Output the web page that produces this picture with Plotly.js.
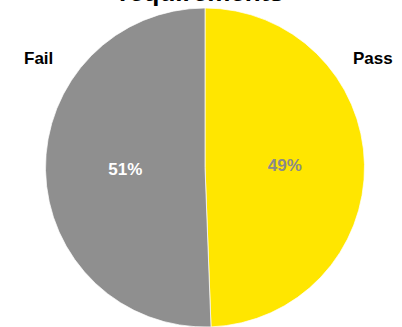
<!DOCTYPE html>
<html>
<head>
<meta charset="utf-8">
<script src="https://cdn.plot.ly/plotly-3.0.1.min.js"></script>
<style>html,body{margin:0;padding:0;background:#fff;}#chart{width:402px;height:327px;}</style>
</head>
<body>
<div id="chart"></div>
<script>
var categories = ["Pass", "Fail"];
var values = [49.4, 50.6];
var sliceColors = ["#ffe600", "#8f8f8f"];
var pctColors = ["#8a8a8a", "#ffffff"];
var titleText = "requirements";

var FONT = "Liberation Sans, Arial, sans-serif";

var trace = {
  type: "pie",
  labels: categories,
  values: values,
  sort: false,
  direction: "clockwise",
  rotation: 0,
  marker: {colors: sliceColors, line: {color: "#ffffff", width: 0.7}},
  textinfo: "percent",
  texttemplate: "%{percent:.0%}",
  textposition: "inside",
  insidetextorientation: "horizontal",
  insidetextfont: {family: FONT, size: 17, color: pctColors, weight: "bold"},
  hoverinfo: "none",
  showlegend: false
};

// outer category labels (positions are styling)
var labelPos = {"Pass": {x: 373, y: 58}, "Fail": {x: 38, y: 58}};
var annotations = categories.map(function (c) {
  return {
    text: "<b>" + c + "</b>", xref: "paper", yref: "paper",
    x: (labelPos[c].x - 45) / (402 - 45 - 37),
    y: 1 - (labelPos[c].y - 8) / (327 - 8),
    xanchor: "center", yanchor: "middle", showarrow: false,
    font: {family: FONT, size: 17, color: "#000000"}
  };
});

// chart title, partly above the top edge as in the reference
annotations.push({
  text: "<b>" + titleText + "</b>", xref: "paper", yref: "paper",
  x: (201 - 45) / (402 - 45 - 37), y: 1, yanchor: "bottom", xanchor: "center",
  yshift: -1, showarrow: false,
  font: {family: FONT, size: 26, color: "#000000"}
});

var layout = {
  width: 402, height: 327,
  margin: {l: 45, r: 37, t: 8, b: 0, pad: 0},
  paper_bgcolor: "#ffffff",
  annotations: annotations
};

Plotly.newPlot("chart", [trace], layout, {displayModeBar: false, staticPlot: true});
</script>
</body>
</html>
